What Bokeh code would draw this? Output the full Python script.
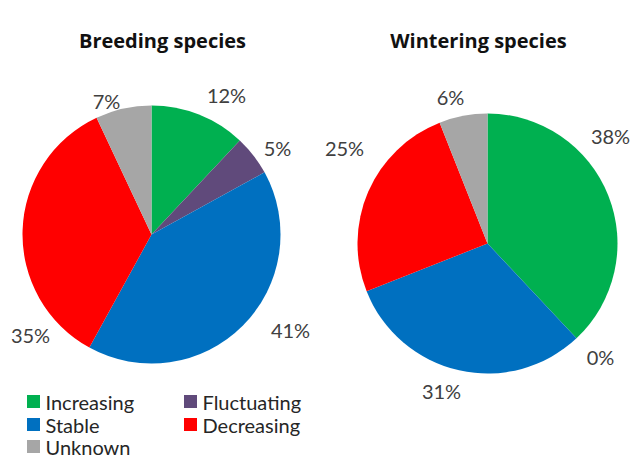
import math
from bokeh.plotting import figure
from bokeh.models import ColumnDataSource, Range1d
from bokeh.core.properties import value
from bokeh.embed import file_html
from bokeh.resources import INLINE

# ---- data ----
categories = ["Increasing", "Fluctuating", "Stable", "Decreasing", "Unknown"]
breeding = [12, 5, 41, 35, 7]
wintering = [38, 0, 31, 25, 6]
titles = ["Breeding species", "Wintering species"]
colors = ["#00B050", "#604A7B", "#0070C0", "#FF0000", "#A6A6A6"]

# ---- layout (image pixel coords, y downward) ----
W, H = 632, 459
def Y(y):
    return H - y

pies = [
    dict(vals=breeding, cx=151, cy=234, r=129, title_xy=(162, 40),
         label_xy=[(226, 94), (277, 147), (290, 329), (30, 334), (106, 100)]),
    dict(vals=wintering, cx=487, cy=243, r=130, title_xy=(478, 40),
         label_xy=[(610, 135), (600, 356), (441, 390), (344, 147), (450, 96)]),
]

p = figure(width=W, height=H, output_backend="svg", toolbar_location=None,
           x_range=Range1d(0, W), y_range=Range1d(0, H), min_border=0)
p.axis.visible = False
p.grid.visible = False
p.outline_line_color = None
p.background_fill_color = "white"

FONT = value("Lato")
TFONT = value("Open Sans")

for i, pie in enumerate(pies):
    vals = pie["vals"]
    total = float(sum(vals))
    starts, ends, cols = [], [], []
    cum = 0.0
    for v, c in zip(vals, colors):
        a0 = math.pi / 2 - 2 * math.pi * (cum + v) / total
        a1 = math.pi / 2 - 2 * math.pi * cum / total
        cum += v
        if v > 0:
            starts.append(a0)
            ends.append(a1)
            cols.append(c)
    src = ColumnDataSource(dict(x=[pie["cx"]] * len(starts), y=[Y(pie["cy"])] * len(starts),
                                start=starts, end=ends, color=cols))
    p.wedge(x="x", y="y", radius=pie["r"], start_angle="start", end_angle="end",
            fill_color="color", line_color=None, source=src)

    lsrc = ColumnDataSource(dict(x=[xy[0] for xy in pie["label_xy"]],
                                 y=[Y(xy[1]) for xy in pie["label_xy"]],
                                 t=["%d%%" % v for v in vals]))
    p.text(x="x", y="y", text="t", source=lsrc, text_font=FONT, text_font_size="20px",
           text_color="#404040", text_align="center", text_baseline="middle")

    tx, ty = pie["title_xy"]
    p.text(x=[tx], y=[Y(ty)], text=[titles[i]], text_font=TFONT,
           text_font_size="20px", text_font_style="bold", text_color="#111111",
           text_align="center", text_baseline="middle")

# ---- legend ----
leg_pos = [(33, 401), (190, 401), (33, 424), (190, 424), (33, 446)]
sq = ColumnDataSource(dict(x=[q[0] for q in leg_pos], y=[Y(q[1]) for q in leg_pos],
                           color=colors, t=categories,
                           tx=[q[0] + 12 for q in leg_pos]))
p.scatter(x="x", y="y", source=sq, marker="square", size=13, fill_color="color",
          line_color=None)
p.text(x="tx", y="y", text="t", source=sq, text_font=FONT, text_font_size="20px",
       text_color="#262626", text_align="left", text_baseline="middle")

open("out.html", "w").write(file_html(p, INLINE))
